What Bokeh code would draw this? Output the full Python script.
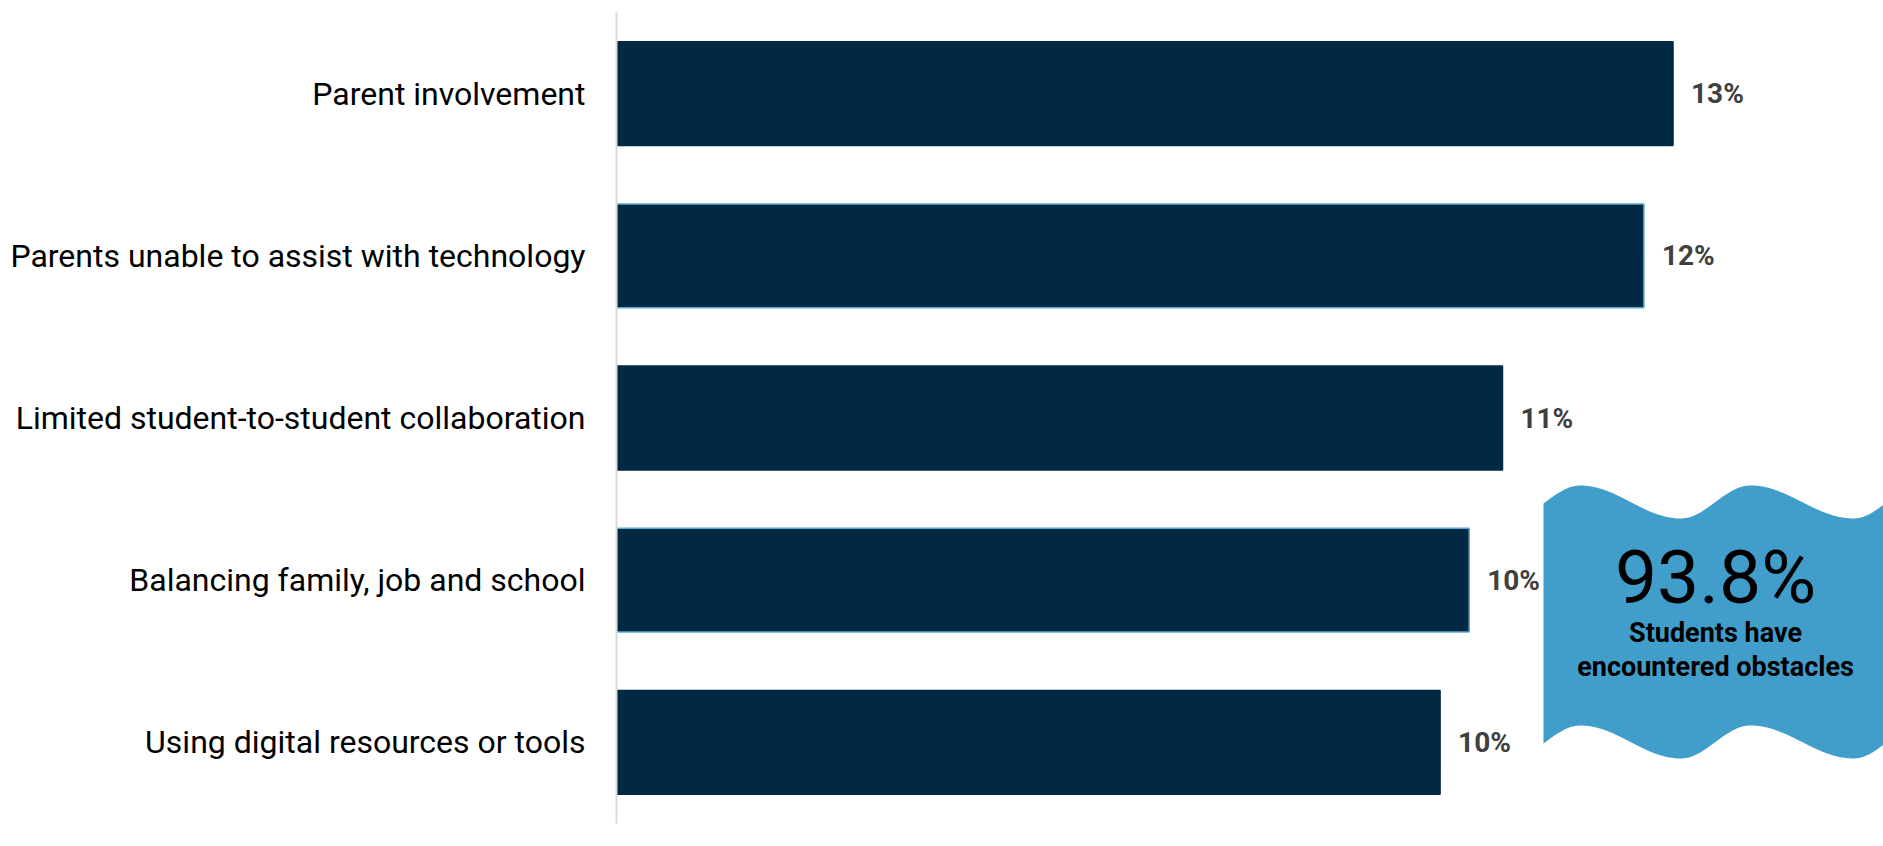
import numpy as np
from bokeh.plotting import figure
from bokeh.models import FactorRange, Range1d, ColumnDataSource
from bokeh.core.properties import value
from bokeh.embed import file_html
from bokeh.resources import INLINE

# ---- data ----
categories = [
    "Parent involvement",
    "Parents unable to assist with technology",
    "Limited student-to-student collaboration",
    "Balancing family, job and school",
    "Using digital resources or tools",
]
shares = [12.7, 12.35, 10.65, 10.25, 9.9]
callout_value = "93.8%"
callout_lines = ["Students have", "encountered obstacles"]

# ---- styles ----
BAR = "#022843"
WAVE = "#419dc9"
outline_colors = [BAR, "#5aaad6", BAR, "#5aaad6", BAR]

W, H = 1883, 846
LEFT, TOP, BOTTOM = 616, 12, 23
XMAX = 15.23
OFF = 0  # page offset of the figure

p = figure(width=W, height=H, output_backend="svg", toolbar_location=None,
           y_range=FactorRange(factors=categories[::-1], range_padding=0),
           x_range=Range1d(0, XMAX),
           min_border_left=LEFT, min_border_top=TOP, min_border_bottom=BOTTOM,
           min_border_right=0)
p.outline_line_color = None
p.xgrid.visible = False
p.ygrid.visible = False
p.xaxis.visible = False
p.background_fill_color = "white"

src = ColumnDataSource(dict(cat=categories, v=shares, lc=outline_colors,
                            lab=[f"{v:.0f}%" for v in shares]))
p.hbar(y="cat", left=0, right="v", height=0.64, source=src,
       fill_color=BAR, line_color="lc", line_width=1.5)
p.text(x="v", y="cat", text="lab", source=src, x_offset=18,
       text_baseline="middle", text_align="left",
       text_font=value("Roboto"), text_font_style="bold",
       text_font_size="28px", text_color="#404040")

ax = p.yaxis[0]
ax.axis_line_color = "#d9d9d9"
ax.axis_line_width = 2
ax.major_tick_line_color = None
ax.minor_tick_line_color = None
ax.major_label_standoff = 25
ax.major_label_text_font = "Roboto"
ax.major_label_text_font_size = "32px"
ax.major_label_text_color = "#000000"

# ---- wavy callout (decoration), shape in page pixels converted to data ----
frame_w = W - LEFT
frame_h = H - TOP - BOTTOM
def px2x(px):
    return (px - OFF - LEFT) / frame_w * XMAX
def py2y(py):
    return 5 - (py - OFF - TOP) / frame_h * 5

def wave(xs, base):
    ex = np.array([1510, 1580, 1680, 1750, 1853, 1920, 2020])
    ey = np.array([base + 16.5, base - 16.5] * 3 + [base + 16.5])
    out = []
    for x in xs:
        i = np.searchsorted(ex, x) - 1
        i = max(0, min(i, len(ex) - 2))
        t = (x - ex[i]) / (ex[i + 1] - ex[i])
        f = (1 - np.cos(np.pi * t)) / 2
        out.append(ey[i] + (ey[i + 1] - ey[i]) * f)
    return np.array(out)

xs = np.linspace(1543, OFF + W, 200)
top = wave(xs, 501.5)
bot = wave(xs, 741.5)
px = np.concatenate([xs, xs[::-1]])
py = np.concatenate([top, bot[::-1]])
p.patch(x=[px2x(v) for v in px], y=[py2y(v) for v in py],
        fill_color=WAVE, line_color=None)

cx = px2x(1715)
p.text(x=[cx], y=[py2y(576)], text=[callout_value], text_align="center",
       text_baseline="middle", text_font=value("Roboto"),
       text_font_size="75px", text_color="#000000")
p.text(x=[cx, cx], y=[py2y(632), py2y(666)], text=callout_lines,
       text_align="center", text_baseline="middle",
       text_font=value("Roboto"), text_font_style="bold",
       text_font_size="27px", text_color="#000000")

open("out.html", "w").write(file_html(p, INLINE))
